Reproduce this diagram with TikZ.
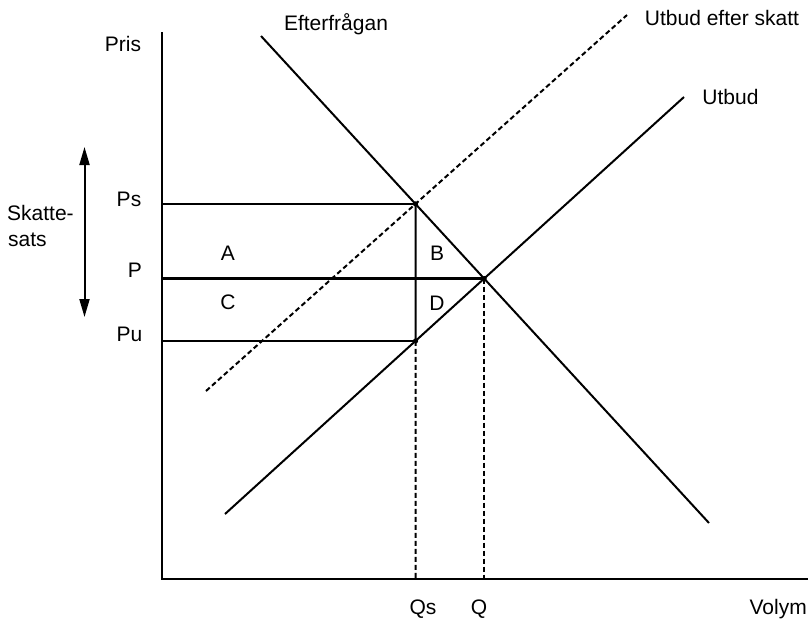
\documentclass[tikz,border=0pt]{standalone}
\usepackage{fontspec}
\setmainfont{Liberation Sans}
\usetikzlibrary{arrows.meta}
\tikzset{
  axisline/.style={line width=2.6pt},
  curve/.style={line width=2pt},
  level/.style={line width=2.2pt},
  dashline/.style={line width=2pt, dash pattern=on 5pt off 3pt},
  lbl/.style={anchor=base, inner sep=0pt},
  dot/.style={fill=black}
}
\begin{document}
\begin{tikzpicture}[x=1pt, y=-1pt, font=\fontsize{21}{25}\selectfont]
\useasboundingbox (0,0) rectangle (811,622);
% axes
\coordinate (Otop) at (162,32);
\coordinate (O) at (162,579);
\coordinate (Xend) at (808,579);
\draw[axisline] (Otop) -- (O) -- (Xend);
% curves
\coordinate (D1) at (261,36);
\coordinate (D2) at (709,523);
\coordinate (S1) at (225,514);
\coordinate (S2) at (684,97);
\coordinate (T1) at (206,391);
\coordinate (T2) at (627,15);
\draw[curve] (D1) -- (D2);
\draw[curve] (S1) -- (S2);
\draw[dashline] (T1) -- (T2);
% intersections
\coordinate (Ps) at (intersection of D1--D2 and T1--T2);
\coordinate (Q) at (intersection of D1--D2 and S1--S2);
\coordinate (PsB) at (Ps |- O);
\coordinate (Pu) at (intersection of S1--S2 and Ps--PsB);
% price levels
\draw[level] (Ps -| O) -- (Ps);
\draw[level] (Q -| O) -- (Q);
\draw[level] (Pu -| O) -- (Pu);
\draw[curve] (Ps) -- (Pu);
\draw[dashline] (Pu) -- (PsB);
\draw[dashline] (Q) -- (Q |- O);
\fill[dot] (Ps) circle (2.6);
\fill[dot] (Q) circle (2.6);
\fill[dot] (Pu) circle (2.6);
% tax arrow
\coordinate (Atop) at (84.5,147);
\coordinate (Abot) at (84.5,317);
\draw[line width=2pt, {Triangle[length=18pt,width=10pt]}-{Triangle[length=18pt,width=10pt]}] (Atop) -- (Abot);
% labels
\node[lbl] (pris) at (123,51) {Pris};
\node[lbl] (eft) at (336,30) {Efterfrågan};
\node[lbl] (ues) at (722,25) {Utbud efter skatt};
\node[lbl] (utb) at (730.5,104) {Utbud};
\node[lbl] (lps) at (129,206) {Ps};
\node[lbl] (lp) at (135,277) {P};
\node[lbl] (lpu) at (129.5,341) {Pu};
\node[lbl, anchor=base west] (sk1) at (7,220) {Skatte-};
\node[lbl, anchor=base west] (sk2) at (8,246) {sats};
\node[lbl] (la) at (228,260) {A};
\node[lbl] (lc) at (228,309) {C};
\node[lbl] (lb) at (437,260.5) {B};
\node[lbl] (ld) at (437,310) {D};
\node[lbl] (lqs) at (423,614) {Qs};
\node[lbl] (lq) at (479,614) {Q};
\node[lbl, anchor=base east] (vol) at (807,614) {Volym};
\end{tikzpicture}
\end{document}
